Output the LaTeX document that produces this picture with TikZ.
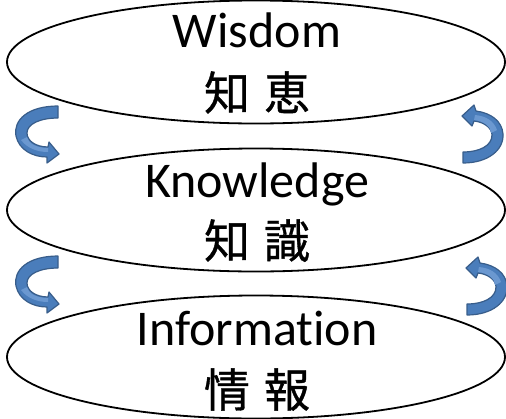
\documentclass[tikz,border=0pt]{standalone}
\usepackage{fontspec}
\setmainfont[Ligatures=NoCommon]{Carlito}
\newfontfamily\cjk[FakeBold=0.8]{Noto Sans CJK JP}
\usetikzlibrary{shapes.geometric}
\definecolor{turnfill}{HTML}{4A7DBB}
\definecolor{turnedge}{HTML}{385D8A}
\definecolor{turnlight}{HTML}{6B98D0}

\begin{document}
\begin{tikzpicture}[
    x=1pt, y=-1pt,
    layer/.style={ellipse, draw=black, line width=1.8pt, minimum width=498pt, minimum height=123pt, inner sep=0pt},
    word/.style={anchor=base, inner sep=0pt, font=\fontsize{50}{50}\selectfont},
    kanji/.style={anchor=base, inner sep=0pt, font={\cjk\fontsize{46}{46}\selectfont\spaceskip 14pt\relax}},
    turn/.style={fill=turnfill, draw=turnedge, line width=1.2pt, line join=round},
    shine/.style={fill=turnlight}
]
\useasboundingbox (0,0) rectangle (506,418);

% the three layers
\node[layer] (wisdom) at (256,62) {};
\node[layer] (knowledge) at (256,210) {};
\node[layer] (information) at (256,357) {};

% labels
\node[word] (wisdomword) at (257,47) {Wisdom};
\node[kanji] (wisdomkanji) at (257,110) {知 恵};
\node[word] (knowledgeword) at (257,197) {Knowledge};
\node[kanji] (knowledgekanji) at (257,258) {知 識};
\node[word] (informationword) at (257,345) {Information};
\node[kanji] (informationkanji) at (257,407) {情 報};

% curved arrows, left side
\foreach \dy in {0,150} {
  \draw[turn, shift={(0,\dy)}] (58,106) .. controls (28,106) and (13,120) .. (16,136)
    .. controls (19,150) and (33,157) .. (47,157) -- (47,163) -- (59,154) -- (49,142) -- (48,147)
    .. controls (36,147) and (27,141) .. (27,133) .. controls (27,124) and (40,118) .. (58,118) -- cycle;
  \fill[shine, shift={(0,\dy)}] (21,140) .. controls (27,148) and (37,152) .. (48,152) -- (48,148)
    .. controls (36,148) and (28,143) .. (27,137) -- cycle;
}

% curved arrows, right side
\foreach \dx/\dy in {0/0, 4/152} {
  \draw[turn, shift={(\dx,\dy)}] (463,163) .. controls (488,163) and (504,150) .. (503,134)
    .. controls (502,121) and (491,113) .. (476,111) -- (474,105) -- (462,116) -- (472,126) -- (474,121)
    .. controls (484,122) and (492,128) .. (492,135) .. controls (492,146) and (479,152) .. (463,152) -- cycle;
  \fill[shine, shift={(\dx,\dy)}] (474,120) .. controls (484,121) and (491,127) .. (491,133) -- (497,130)
    .. controls (494,121) and (486,116) .. (475,115) -- cycle;
}

\end{tikzpicture}
\end{document}
